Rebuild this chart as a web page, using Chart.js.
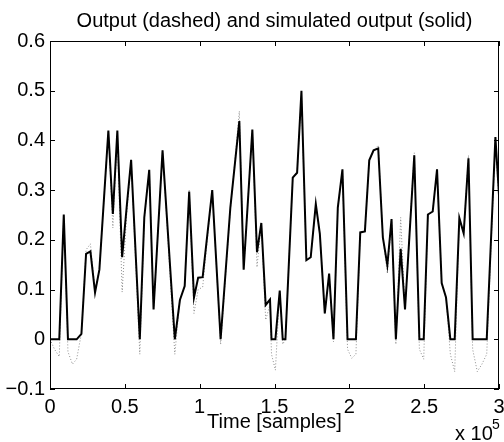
<!DOCTYPE html>
<html>
<head>
<meta charset="utf-8">
<title>Output vs simulated output</title>
<script src="https://cdn.jsdelivr.net/npm/chart.js@4.4.0/dist/chart.umd.min.js"></script>
<style>
    html, body { margin: 0; padding: 0; background: #fff; }
    #chart { display: block; }
</style>
</head>
<body>
<canvas id="chart" width="504" height="442"></canvas>
<script>
// Simulated output (solid line): sample index and value at each vertex
const simTimes = [
    0, 6200, 9200, 12000, 17800, 21000, 24100, 27000, 30100, 33000,
    39000, 42000, 45000, 48200, 51200, 54200, 60000, 63000, 66300, 69200,
    75200, 83400, 86800, 90000, 93000, 96200, 99000, 102000, 108400, 114000,
    120500, 126500, 129400, 135200, 138300, 141200, 144100, 147000, 148000, 150600,
    153500, 155500, 157300, 162200, 165100, 168000, 171300, 174200, 177600, 180300,
    183600, 186500, 189400, 192300, 195400, 198800, 204400, 207300, 210400, 213300,
    216200, 219300, 222400, 225400, 228200, 231100, 234300, 237200, 243400, 246800,
    249700, 252500, 255700, 258600, 261700, 264600, 267500, 270400, 273500, 276400,
    279600, 282400, 291800, 297600, 300000
];
const simValues = [
    0, 0, 0.251, 0, 0, 0.011, 0.172, 0.177, 0.094, 0.14,
    0.42, 0.252, 0.42, 0.165, 0.265, 0.361, 0, 0.245, 0.341, 0.06,
    0.38, 0, 0.079, 0.107, 0.297, 0.084, 0.124, 0.125, 0.3, 0,
    0.265, 0.439, 0.14, 0.422, 0.175, 0.234, 0.069, 0.08, 0, 0,
    0.098, 0, 0, 0.325, 0.335, 0.5, 0.159, 0.165, 0.272, 0.212,
    0.052, 0.132, 0, 0.265, 0.342, 0, 0, 0.215, 0.217, 0.36,
    0.38, 0.384, 0.205, 0.149, 0.242, 0, 0.182, 0.06, 0.37, 0,
    0, 0.251, 0.257, 0.342, 0.113, 0.084, 0, 0, 0.244, 0.213,
    0.364, 0, 0, 0.407, 0.29
];

// Measured output (dotted line)
const outTimes = [
    0, 3000, 6200, 9200, 12000, 15000, 17800, 21000, 24100, 27000,
    30100, 33000, 39000, 42000, 45000, 48200, 51200, 54200, 60000, 63000,
    66300, 69200, 75200, 83400, 86800, 90000, 93000, 96200, 99000, 102000,
    108400, 114000, 120500, 126500, 129400, 135200, 138300, 141200, 144100, 147000,
    148000, 150600, 153500, 155500, 157300, 162200, 165100, 168000, 171300, 174200,
    177600, 180300, 183600, 186500, 189400, 192300, 195400, 198800, 201600, 204400,
    207300, 210400, 213300, 216200, 219300, 222400, 225400, 228200, 231100, 234300,
    237200, 243400, 246800, 249700, 252500, 255700, 258600, 261700, 264600, 267500,
    270400, 273500, 276400, 279600, 282400, 285500, 288600, 291800, 297600, 300000
];
const outValues = [
    0, -0.02, -0.035, 0.25, -0.025, -0.05, -0.04, 0.012, 0.18, 0.192,
    0.1, 0.14, 0.42, 0.224, 0.41, 0.095, 0.25, 0.36, -0.03, 0.24,
    0.34, 0.06, 0.38, -0.03, 0.08, 0.11, 0.3, 0.052, 0.1, 0.105,
    0.3, -0.01, 0.26, 0.459, 0.14, 0.422, 0.145, 0.234, 0.039, 0.07,
    -0.03, -0.062, 0.098, -0.01, 0, 0.325, 0.335, 0.49, 0.16, 0.165,
    0.272, 0.212, 0.052, 0.132, -0.005, 0.265, 0.342, -0.02, -0.038, -0.03,
    0.215, 0.217, 0.36, 0.38, 0.39, 0.205, 0.132, 0.242, -0.01, 0.245,
    0.06, 0.375, -0.02, -0.04, 0.25, 0.257, 0.342, 0.113, 0.084, -0.03,
    -0.065, 0.244, 0.213, 0.37, -0.02, -0.065, -0.05, -0.03, 0.4, 0.28
];

// Axis ticks
const xTicks = [0, 50000, 100000, 150000, 200000, 250000, 300000];
const yTicks = [-0.1, 0, 0.1, 0.2, 0.3, 0.4, 0.5, 0.6];

const TITLE = 'Output (dashed) and simulated output (solid)';
const FONT = 'Liberation Sans, Arial, Helvetica, sans-serif';

function toPoints(xs, ys) {
    return xs.map((x, i) => ({ x: x, y: ys[i] }));
}

function formatY(v) {
    const r = Math.round(v * 10) / 10;
    if (r === 0) return '0';
    return r < 0 ? '\u2212' + String(-r) : String(r);
}

// MATLAB style box with inward ticks, title over the axes and the "x 10^5" label
const boxPlugin = {
    id: 'matlabBox',
    afterDraw(chart) {
        const ctx = chart.ctx;
        const area = chart.chartArea;
        const xs = chart.scales.x;
        const ys = chart.scales.y;
        const len = 5;

        ctx.save();
        ctx.strokeStyle = '#000';
        ctx.lineWidth = 1;
        ctx.strokeRect(area.left + 0.5, area.top + 0.5, area.right - area.left - 1, area.bottom - area.top - 1);

        ctx.beginPath();
        xTicks.forEach(v => {
            const px = Math.round(xs.getPixelForValue(v)) + 0.5;
            ctx.moveTo(px, area.bottom);
            ctx.lineTo(px, area.bottom - len);
            ctx.moveTo(px, area.top);
            ctx.lineTo(px, area.top + len);
        });
        yTicks.forEach(v => {
            const py = Math.round(ys.getPixelForValue(v)) + 0.5;
            ctx.moveTo(area.left, py);
            ctx.lineTo(area.left + len, py);
            ctx.moveTo(area.right, py);
            ctx.lineTo(area.right - len, py);
        });
        ctx.stroke();

        ctx.fillStyle = '#000';
        ctx.font = '20px ' + FONT;
        ctx.textAlign = 'center';
        ctx.textBaseline = 'middle';
        ctx.fillText(TITLE, (area.left + area.right) / 2, 21);

        ctx.textAlign = 'left';
        ctx.textBaseline = 'alphabetic';
        ctx.fillText('x 10', 455, 440);
        ctx.font = '14px ' + FONT;
        ctx.fillText('5', 492, 429);
        ctx.restore();
    }
};

Chart.defaults.color = '#000';
Chart.defaults.font.family = FONT;

const ctx = document.getElementById('chart').getContext('2d');
const chart = new Chart(ctx, {
    type: 'line',
    data: {
        datasets: [{
            label: 'Simulated output',
            data: toPoints(simTimes, simValues),
            borderColor: '#000',
            borderWidth: 2,
            pointRadius: 0,
            tension: 0,
            fill: false,
            order: 0
        }, {
            label: 'Output',
            data: toPoints(outTimes, outValues),
            borderColor: '#8c8c8c',
            borderWidth: 1,
            borderDash: [1, 2],
            pointRadius: 0,
            tension: 0,
            fill: false,
            order: 1
        }]
    },
    options: {
        responsive: false,
        devicePixelRatio: 1,
        animation: false,
        layout: {
            padding: { top: 41, right: 5, bottom: 0, left: 0 }
        },
        plugins: {
            legend: { display: false },
            tooltip: { enabled: false },
            title: { display: false }
        },
        scales: {
            x: {
                type: 'linear',
                min: 0,
                max: 300000,
                grid: { display: false, drawTicks: false },
                border: { display: false },
                afterBuildTicks: scale => {
                    scale.ticks = xTicks.map(v => ({ value: v }));
                },
                ticks: {
                    padding: 6,
                    maxRotation: 0,
                    font: { size: 20 },
                    callback: v => String(v / 100000)
                },
                title: {
                    display: true,
                    text: 'Time [samples]',
                    font: { size: 20 },
                    padding: { top: 8, bottom: 8 }
                },
                afterFit: scale => {
                    scale.height = 53;
                    scale.paddingLeft = 0;
                    scale.paddingRight = 0;
                }
            },
            y: {
                min: -0.1,
                max: 0.6,
                grid: { display: false, drawTicks: false },
                border: { display: false },
                afterBuildTicks: scale => {
                    scale.ticks = yTicks.map(v => ({ value: v }));
                },
                ticks: {
                    padding: 5,
                    font: { size: 20 },
                    callback: v => formatY(v)
                },
                afterFit: scale => {
                    scale.width = 50;
                    scale.paddingTop = 0;
                    scale.paddingBottom = 0;
                }
            }
        }
    },
    plugins: [boxPlugin]
});
</script>
</body>
</html>
